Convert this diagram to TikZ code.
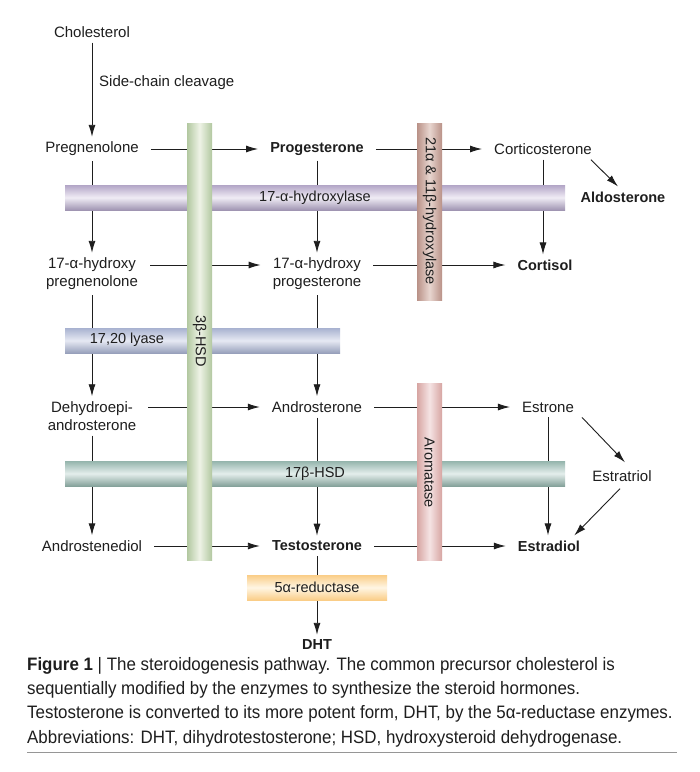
\documentclass[tikz,border=0pt]{standalone}
\usepackage{fontspec}
\setmainfont{Liberation Sans}
\newfontfamily\capfont{Liberation Sans}[FakeStretch=0.94]
\usetikzlibrary{arrows.meta}
\definecolor{grnE}{RGB}{178,200,160}
\definecolor{grnM}{RGB}{238,243,230}
\definecolor{purE}{RGB}{178,165,198}
\definecolor{purM}{RGB}{240,236,245}
\definecolor{brnE}{RGB}{185,145,135}
\definecolor{brnM}{RGB}{232,214,208}
\definecolor{bluE}{RGB}{168,178,208}
\definecolor{bluM}{RGB}{230,233,243}
\definecolor{tealE}{RGB}{148,180,172}
\definecolor{tealM}{RGB}{228,238,236}
\definecolor{pnkE}{RGB}{215,165,162}
\definecolor{pnkM}{RGB}{245,228,228}
\definecolor{yelE}{RGB}{250,205,135}
\definecolor{yelM}{RGB}{255,246,228}
\definecolor{rulec}{RGB}{150,150,150}
\definecolor{ink}{RGB}{30,30,30}
\begin{document}
\begin{tikzpicture}[x=1pt,y=-1pt,
  lbl/.style={font=\fontsize{15}{18}\selectfont, text=ink, inner xsep=12pt, inner ysep=5pt, align=center},
  blbl/.style={lbl, font=\fontsize{14.5}{18}\selectfont\bfseries},
  conn/.style={line width=0.9pt, draw=ink, -{Latex[length=12pt,width=7pt]}},
  barfont/.style={font=\fontsize{14.5}{17}\selectfont, text=ink},
  hbar/.style={barfont, minimum height=25pt, inner sep=0pt},
  vbar/.style={barfont, minimum width=25pt, inner sep=0pt}]
\useasboundingbox (0,0) rectangle (700,772);
\fill[white] (0,0) rectangle (700,772);

% labels
\node[lbl] (chol) at (92,32) {Cholesterol};
\node[font=\fontsize{15}{18}\selectfont, text=ink, anchor=west, inner sep=0pt] (scc) at (99,83) {Side-chain cleavage};
\node[lbl] (preg) at (92,149) {Pregnenolone};
\node[blbl] (prog) at (317,149) {Progesterone};
\node[lbl] (cort) at (543,149) {Corticosterone};
\node[blbl] (aldo) at (623,197) {Aldosterone};
\node[lbl] (ohpreg) at (92,274) {17-α-hydroxy\\pregnenolone};
\node[lbl] (ohprog) at (317,274) {17-α-hydroxy\\progesterone};
\node[blbl] (cortisol) at (545,265) {Cortisol};
\node[lbl] (dhea) at (92,416) {Dehydroepi-\\androsterone};
\node[lbl] (andro) at (317,407) {Androsterone};
\node[lbl] (estrone) at (548,407) {Estrone};
\node[lbl] (estriol) at (622,476) {Estratriol};
\node[lbl] (adiol) at (92,546) {Androstenediol};
\node[blbl] (testo) at (317,546) {Testosterone};
\node[blbl] (estradiol) at (549,546) {Estradiol};
\node[blbl] (dht) at (317,645) {DHT};

% connectors
\draw[conn] (chol.south) -- (preg.north);
\draw[conn] (preg) -- (prog);
\draw[conn] (prog) -- (cort);
\draw[conn] ([xshift=-13pt]cort.south east) -- ([xshift=-5pt]aldo.north);
\draw[conn] (cort.south) -- (cort.south |- cortisol.north);
\draw[conn] (preg.south) -- (ohpreg.north);
\draw[conn] (prog.south) -- (ohprog.north);
\draw[conn] ([yshift=9pt]ohpreg.east) -- ([yshift=9pt]ohprog.west);
\draw[conn] ([yshift=9pt]ohprog.east) -- (cortisol.west);
\draw[conn] (ohpreg.south) -- (dhea.north);
\draw[conn] (ohprog.south) -- (andro.north);
\draw[conn] ([yshift=9pt]dhea.east) -- (andro.west);
\draw[conn] (andro) -- (estrone);
\draw[conn] ([xshift=-4pt]estrone.south east) -- ([xshift=3pt,yshift=3pt]estriol.north);
\draw[conn] ([xshift=-2pt,yshift=-2pt]estriol.south) -- ([xshift=-18pt]estradiol.north east);
\draw[conn] (estrone.south) -- (estrone.south |- estradiol.north);
\draw[conn] (dhea.south) -- (adiol.north);
\draw[conn] (andro.south) -- (testo.north);
\draw[conn] (adiol) -- (testo);
\draw[conn] (testo) -- (estradiol);
\draw[conn] (testo.south) -- (dht.north);

% horizontal enzyme bars
\node[hbar, minimum width=500pt, top color=purE, bottom color=purE!90!black, middle color=purM] (hyd) at (315,197.5) {17-α-hydroxylase};
\node[hbar, minimum width=275pt, top color=bluE, bottom color=bluE!90!black, middle color=bluM] (lyase) at (202.5,340.5) {};
\node[barfont, inner sep=0pt] (lyaseT) at (127,340) {17,20 lyase};
\node[hbar, minimum width=500pt, top color=tealE, bottom color=tealE!90!black, middle color=tealM] (hsd17) at (315,473.5) {17β-HSD};

% vertical enzyme bars
\node[vbar, minimum height=437pt, left color=grnE, right color=grnE, middle color=grnM] (hsd3) at (199.5,341.5) {};
\node[barfont, rotate=-90, inner sep=0pt] (hsd3T) at (199.5,341) {3β-HSD};
\node[vbar, minimum height=177pt, left color=brnE, right color=brnE, middle color=brnM] (hyd21) at (429.5,211.5) {};
\node[barfont, rotate=-90, inner sep=0pt] (hyd21T) at (429.5,211) {21α \& 11β-hydroxylase};
\node[vbar, minimum height=177pt, left color=pnkE, right color=pnkE, middle color=pnkM] (arom) at (429.5,471.5) {};
\node[barfont, rotate=-90, inner sep=0pt] (aromT) at (429.5,473) {Aromatase};

% 5alpha-reductase
\node[hbar, minimum width=140pt, top color=yelE, bottom color=yelE, middle color=yelM] (red5) at (317,587.5) {5α-reductase};

% caption
\node[font=\capfont\fontsize{18}{24.3}\selectfont, text=ink, anchor=north west, inner sep=0pt, align=left] (cap) at (27,657)
{\textbf{Figure 1} | The steroidogenesis pathway. The common precursor cholesterol is\\
sequentially modified by the enzymes to synthesize the steroid hormones.\\
Testosterone is converted to its more potent form, DHT, by the 5α-reductase enzymes.\\
Abbreviations: DHT, dihydrotestosterone; HSD, hydroxysteroid dehydrogenase.};
\coordinate (r1) at (27,752);
\coordinate (r2) at (677,752);
\draw[rulec, line width=1pt] (r1) -- (r2);
\end{tikzpicture}
\end{document}
